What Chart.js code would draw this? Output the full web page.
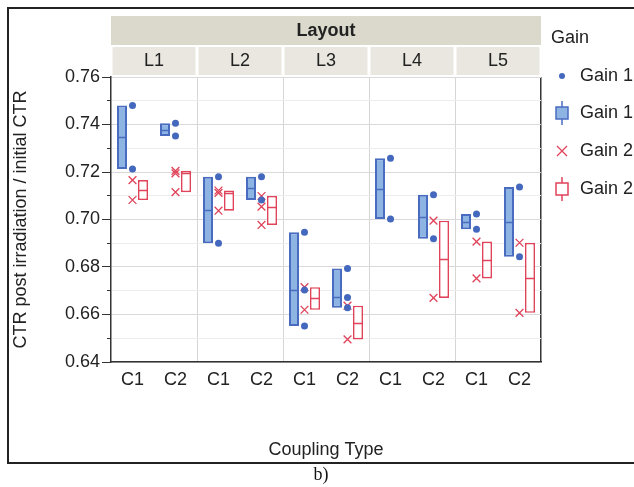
<!DOCTYPE html>
<html><head><meta charset="utf-8">
<script src="https://cdn.jsdelivr.net/npm/chart.js@4.4.0/dist/chart.umd.min.js"></script>
<style>html,body{margin:0;padding:0;background:#fff;}canvas{display:block;}</style>
</head><body>
<canvas id="c" width="634" height="487"></canvas>
<script>
// ---- data ----
const layouts = ['L1', 'L2', 'L3', 'L4', 'L5'];
const couplings = ['C1', 'C2'];
const yTickLabels = ['0.64', '0.66', '0.68', '0.70', '0.72', '0.74', '0.76'];
// order: L1C1, L1C2, L2C1, L2C2, ... L5C2
const gain1 = [
  [0.7480, 0.7213],
  [0.7405, 0.7352],
  [0.7180, 0.6900],
  [0.7180, 0.7082],
  [0.6946, 0.6703, 0.6552],
  [0.6794, 0.6672, 0.6628],
  [0.7258, 0.7002],
  [0.7104, 0.6919],
  [0.7023, 0.6959],
  [0.7137, 0.6843]
];
const gain2 = [
  [0.7166, 0.7082],
  [0.7205, 0.7194, 0.7115],
  [0.7122, 0.7112, 0.7037],
  [0.7099, 0.7054, 0.6977],
  [0.6715, 0.6620],
  [0.6637, 0.6495],
  [],
  [0.6995, 0.6670],
  [0.6907, 0.6752],
  [0.6902, 0.6607]
];
const seriesNames = ['Gain 1', 'Gain 2'];

// ---- derived ----
const keys = layouts.flatMap(l => couplings.map(c => l + '|' + c));
const boxRange = arr => arr.map(p => p.length ? [Math.min(...p), Math.max(...p)] : null);
const median = arr => arr.map(p => {
  if (!p.length) return null;
  const s = [...p].sort((a, b) => a - b);
  const m = Math.floor(s.length / 2);
  return s.length % 2 ? s[m] : (s[m - 1] + s[m]) / 2;
});
const pts = arr => arr.flatMap((p, i) => p.map(v => ({ x: keys[i], y: v })));

const BLUE = '#4a6cc0', BLUE_FILL = '#8db4e2', DOT = '#4468bd', RED = '#e0435a';
const FONT = "'Liberation Sans', Arial, Helvetica, sans-serif";
const FS = 18;
Chart.defaults.font.family = FONT;
Chart.defaults.color = '#222';

const isMajor = v => Math.round(v * 100) % 2 === 0;

const medianPlugin = {
  id: 'medians',
  afterDatasetDraw(chart, args) {
    const ds = chart.data.datasets[args.index];
    if (!ds.medians) return;
    const ctx = chart.ctx, y = chart.scales.y;
    ctx.save();
    ctx.strokeStyle = ds.borderColor;
    ctx.lineWidth = 1.5;
    args.meta.data.forEach((el, i) => {
      const m = ds.medians[i];
      if (m == null) return;
      const py = Math.round(y.getPixelForValue(m)) + 0.5;
      ctx.beginPath();
      ctx.moveTo(el.x - el.width / 2, py);
      ctx.lineTo(el.x + el.width / 2, py);
      ctx.stroke();
    });
    ctx.restore();
  }
};

const decorPlugin = {
  id: 'decor',
  beforeDraw(chart) {
    const ctx = chart.ctx, a = chart.chartArea;
    const w = (a.right - a.left) / keys.length;
    ctx.save();
    // Layout band
    ctx.fillStyle = '#dbd9cb';
    ctx.fillRect(a.left, 16, a.right - a.left, 29);
    ctx.fillStyle = '#222';
    ctx.font = 'bold ' + FS + 'px ' + FONT;
    ctx.textAlign = 'center';
    ctx.textBaseline = 'middle';
    ctx.fillText('Layout', (a.left + a.right) / 2, 31);
    // L row
    ctx.font = FS + 'px ' + FONT;
    layouts.forEach((l, k) => {
      const x0 = a.left + 2 * k * w, x1 = x0 + 2 * w;
      ctx.fillStyle = '#e9e7df';
      ctx.fillRect(x0 + 1.5, 47, x1 - x0 - 3, 28);
      ctx.fillStyle = '#222';
      ctx.fillText(l, (x0 + x1) / 2, 61);
    });
    ctx.restore();
  },
  afterDraw(chart) {
    const ctx = chart.ctx;
    ctx.save();
    // outer frame
    ctx.strokeStyle = '#222';
    ctx.lineWidth = 2;
    ctx.beginPath();
    ctx.moveTo(634, 8); ctx.lineTo(8, 8); ctx.lineTo(8, 463); ctx.lineTo(634, 463);
    ctx.stroke();
    // caption
    ctx.fillStyle = '#111';
    ctx.font = "18px 'Liberation Serif', 'Times New Roman', serif";
    ctx.textAlign = 'center';
    ctx.textBaseline = 'middle';
    ctx.fillText('b)', 321, 475);
    // legend
    ctx.textAlign = 'left';
    ctx.font = FS + 'px ' + FONT;
    ctx.fillStyle = '#222';
    ctx.fillText('Gain', 551, 38);
    const lx = 562, tx = 580;
    const items = [76, 113, 151, 189];
    ctx.fillStyle = DOT;
    ctx.beginPath(); ctx.arc(lx, items[0], 3, 0, Math.PI * 2); ctx.fill();
    const boxIcon = (y, fill, stroke) => {
      ctx.strokeStyle = stroke; ctx.lineWidth = 1.5;
      ctx.beginPath(); ctx.moveTo(lx, y - 12); ctx.lineTo(lx, y + 12); ctx.stroke();
      ctx.fillStyle = fill;
      ctx.fillRect(lx - 6, y - 6, 12, 12);
      ctx.strokeRect(lx - 6, y - 6, 12, 12);
    };
    boxIcon(items[1], BLUE_FILL, BLUE);
    ctx.strokeStyle = RED; ctx.lineWidth = 1.3;
    ctx.beginPath();
    ctx.moveTo(lx - 5, items[2] - 5); ctx.lineTo(lx + 5, items[2] + 5);
    ctx.moveTo(lx + 5, items[2] - 5); ctx.lineTo(lx - 5, items[2] + 5);
    ctx.stroke();
    boxIcon(items[3], '#fff', RED);
    ctx.fillStyle = '#222';
    ctx.fillText(seriesNames[0], tx, items[0]);
    ctx.fillText(seriesNames[0], tx, items[1]);
    ctx.fillText(seriesNames[1], tx, items[2]);
    ctx.fillText(seriesNames[1], tx, items[3]);
    ctx.restore();
  }
};

new Chart(document.getElementById('c'), {
  type: 'bar',
  data: {
    labels: keys,
    datasets: [
      { type: 'line', label: 'Gain 1', data: pts(gain1), showLine: false, pointStyle: 'circle',
        pointRadius: 3.5, pointBackgroundColor: DOT, pointBorderWidth: 0, order: 0 },
      { type: 'line', label: 'Gain 2', data: pts(gain2), showLine: false, pointStyle: 'crossRot',
        pointRadius: 5.5, pointBorderColor: RED, pointBorderWidth: 1.3, order: 0 },
      { type: 'bar', label: 'Gain 1 box', data: boxRange(gain1), medians: median(gain1),
        backgroundColor: BLUE_FILL, borderColor: BLUE, borderWidth: 2, borderSkipped: false, order: 1 },
      { type: 'bar', label: 'Gain 2 box', data: boxRange(gain2), medians: median(gain2),
        backgroundColor: '#ffffff', borderColor: RED, borderWidth: 1.6, borderSkipped: false, order: 1 }
    ]
  },
  options: {
    responsive: false,
    animation: false,
    events: [],
    categoryPercentage: 0.977,
    barPercentage: 0.476,
    layout: { padding: { left: 0, top: 77, right: 93, bottom: 0 } },
    plugins: { legend: { display: false }, tooltip: { enabled: false } },
    scales: {
      x: {
        offset: true,
        afterFit: s => { s.height = 125; },
        ticks: { font: { size: FS }, color: '#222', padding: 7, autoSkip: false, maxRotation: 0,
          callback: (v, i) => keys[i].split('|')[1] },
        grid: { offset: true, drawTicks: false,
          color: c => c.index === undefined ? '#333' : (c.index > 0 && c.index % 2 === 0 ? '#d6d6d6' : 'rgba(0,0,0,0)'),
          lineWidth: c => c.index === undefined ? 1.5 : 1 },
        border: { color: '#333', width: 1.5 },
        title: { display: true, text: 'Coupling Type', font: { size: FS }, color: '#222', padding: { top: 0, bottom: 26 } }
      },
      y: {
        min: 0.64, max: 0.76,
        afterFit: s => { s.width = 111; },
        ticks: { stepSize: 0.01, autoSkip: false, font: { size: FS }, color: '#222', padding: 2,
          callback: v => { const s = v.toFixed(2); return yTickLabels.includes(s) ? s : ''; } },
        grid: {
          color: c => isMajor(c.tick.value) ? '#d9d9d9' : '#ededed',
          lineWidth: 1,
          tickLength: 9,
          tickColor: '#333',
          tickBorderDash: c => isMajor(c.tick.value) ? [] : [5, 5],
          tickBorderDashOffset: c => isMajor(c.tick.value) ? 0 : 5
        },
        border: { color: '#333', width: 1.5 },
        title: { display: true, text: 'CTR post irradiation / initial CTR', font: { size: FS }, color: '#222', padding: { top: 10, bottom: 0 } }
      }
    }
  },
  plugins: [medianPlugin, decorPlugin]
});
</script>
</body></html>
